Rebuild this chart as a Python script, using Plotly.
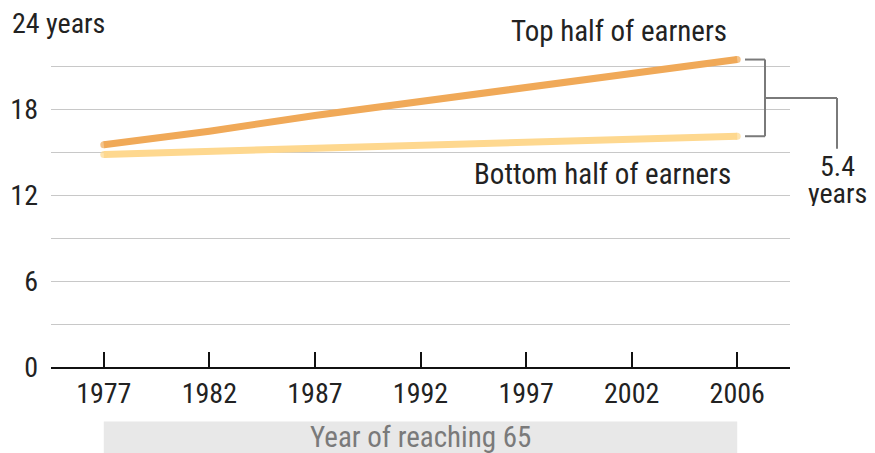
import plotly.graph_objects as go

years = ["1977", "1982", "1987", "1992", "1997", "2002", "2006"]
top_half = [15.5, 16.45, 17.55, 18.5, 19.55, 20.5, 21.45]
bottom_half = [14.83, 15.04, 15.27, 15.53, 15.73, 15.97, 16.1]
y_tickvals = [0, 3, 6, 9, 12, 15, 18, 21, 24]
y_ticktext = ["0", "", "6", "", "12", "", "18", "", ""]
gap_label = "5.4"

FONT = "Liberation Sans Narrow, Roboto Condensed, DejaVu Sans Condensed, Arial Narrow, sans-serif"
TOP_C = "#f0a958"
BOT_C = "#fed88f"
YMAX = 24.0
FS = 28
FS_LBL = 29

OFF = 8  # page body margin
W, H = 875 - OFF, 453 - OFF
L, T = 51 - OFF, 23 - OFF
R = W - (790 - OFF)
B = H - (367.5 - OFF)
pw = W - L - R
ph = H - T - B


def px_x(p):
    return (p - OFF - L) / pw


def px_y(p):
    return (H - B - (p - OFF)) / ph


end_sizes = [7] + [0] * (len(years) - 2) + [7]

fig = go.Figure()
fig.add_trace(go.Scatter(x=years, y=bottom_half, mode="lines+markers",
                         line=dict(color=BOT_C, width=7),
                         marker=dict(color=BOT_C, size=end_sizes, line=dict(width=0)),
                         hoverinfo="skip"))
fig.add_trace(go.Scatter(x=years, y=top_half, mode="lines+markers",
                         line=dict(color=TOP_C, width=7),
                         marker=dict(color=TOP_C, size=end_sizes, line=dict(width=0)),
                         hoverinfo="skip"))

top_end = top_half[-1] / YMAX
bot_end = bottom_half[-1] / YMAX
mid = (top_end + bot_end) / 2
line_style = dict(color="#7a7a7a", width=2)
shapes = [
    dict(type="line", xref="paper", yref="paper", x0=px_x(745), x1=px_x(765), y0=top_end, y1=top_end, line=line_style),
    dict(type="line", xref="paper", yref="paper", x0=px_x(745), x1=px_x(765), y0=bot_end, y1=bot_end, line=line_style),
    dict(type="line", xref="paper", yref="paper", x0=px_x(765), x1=px_x(765), y0=bot_end, y1=top_end, line=line_style),
    dict(type="line", xref="paper", yref="paper", x0=px_x(765), x1=px_x(837), y0=mid, y1=mid, line=line_style),
    dict(type="line", xref="paper", yref="paper", x0=px_x(837), x1=px_x(837), y0=mid, y1=px_y(149), line=line_style),
    dict(type="rect", xref="paper", yref="paper", x0=0.5 / 7, x1=6.5 / 7, y0=px_y(455), y1=px_y(422),
         fillcolor="#e8e8e8", line=dict(width=0), layer="below"),
]

annotations = [
    dict(text="24 years\u00a0\u00a0", xref="paper", yref="y", x=px_x(11), y=24, xanchor="left", yanchor="middle",
         showarrow=False, bgcolor="white", borderpad=0, font=dict(family=FONT, size=FS, color="#222")),
    dict(text="\u00a0\u00a0\u00a0Top half of earners\u00a0\u00a0\u00a0", xref="paper", yref="paper", x=px_x(748), y=px_y(31),
         xanchor="right", yanchor="middle", showarrow=False, bgcolor="white", borderpad=0,
         font=dict(family=FONT, size=FS_LBL, color="#222")),
    dict(text="Bottom half of earners", xref="paper", yref="paper", x=px_x(733), y=px_y(174),
         xanchor="right", yanchor="middle", showarrow=False,
         font=dict(family=FONT, size=FS_LBL, color="#222")),
    dict(text=gap_label, xref="paper", yref="paper", x=px_x(838), y=px_y(166), height=26,
         xanchor="center", yanchor="middle", showarrow=False,
         font=dict(family=FONT, size=FS, color="#222")),
    dict(text="years", xref="paper", yref="paper", x=px_x(838), y=px_y(193), height=26,
         xanchor="center", yanchor="middle", showarrow=False,
         font=dict(family=FONT, size=FS, color="#222")),
    dict(text="Year of reaching 65", xref="paper", yref="paper", x=0.5, y=px_y(438),
         xanchor="center", yanchor="middle", showarrow=False,
         font=dict(family=FONT, size=29, color="#7a7a7a")),
]

fig.update_layout(
    template="none",
    width=W, height=H,
    margin=dict(l=L, r=R, t=T, b=B, pad=0, autoexpand=False),
    paper_bgcolor="white", plot_bgcolor="white",
    showlegend=False,
    font=dict(family=FONT, size=FS, color="#222"),
    shapes=shapes, annotations=annotations,
    xaxis=dict(type="category", range=[-0.5, 6.5], showgrid=False, zeroline=False, automargin=False,
               showline=True, linecolor="#111", linewidth=2,
               ticks="inside", ticklen=15, tickwidth=2, tickcolor="#111",
               tickfont=dict(family=FONT, size=FS, color="#222"), fixedrange=True),
    yaxis=dict(range=[0, YMAX], tickvals=y_tickvals, ticktext=y_ticktext, automargin=False,
               showgrid=True, gridcolor="#c8c8c8", gridwidth=1, zeroline=False,
               showline=False, ticks="", ticklabelstandoff=12,
               tickfont=dict(family=FONT, size=FS, color="#222"), fixedrange=True),
)

fig.write_html("out.html")
